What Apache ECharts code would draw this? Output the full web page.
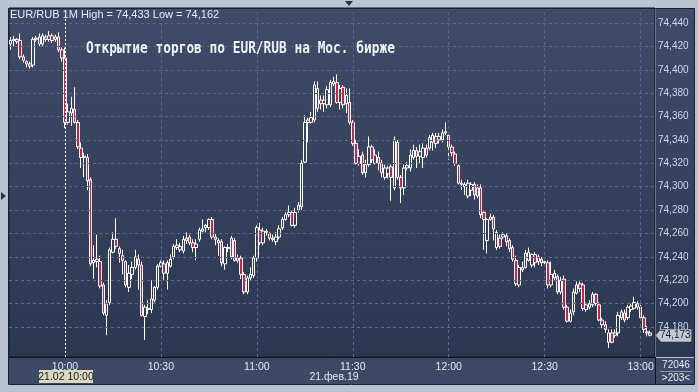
<!DOCTYPE html>
<html>
<head>
<meta charset="utf-8">
<script src="https://cdn.jsdelivr.net/npm/echarts@6/dist/echarts.min.js"></script>
<style>
html,body{margin:0;padding:0;background:#b9c4d3;}
#c{width:698px;height:392px;}
</style>
</head>
<body>
<div id="c"></div>
<script>
// ---- data (prices as thousandths above base) ----
const base = 74;
const candleMilli = [ // [open, close, low, high]
[422,425,417,428],[425,426,420,429],[426,424,422,427],[425,411,409,431],[411,408,406,413],
[407,405,402,408],[405,403,401,407],[404,426,402,428],[426,427,424,429],[428,422,420,431],
[422,429,420,431],[428,426,424,430],[426,429,424,433],[429,425,423,431],[426,428,424,430],
[428,417,415,432],[417,410,407,419],[410,355,350,419],[355,364,353,371],[363,367,352,377],
[366,355,354,385],[355,334,332,357],[333,325,316,338],[325,326,308,329],[325,305,297,328],
[306,234,232,308],[235,237,221,250],[238,236,231,259],[236,215,213,241],[216,192,190,218],
[190,200,173,203],[201,246,199,248],[244,255,243,261],[255,249,247,273],[247,243,235,249],
[241,237,225,246],[236,216,214,237],[214,226,210,233],[225,231,221,236],[231,240,229,246],
[238,233,212,242],[233,190,189,236],[189,197,169,199],[195,196,191,203],[195,204,192,220],
[203,214,201,215],[214,232,212,234],[232,235,231,237],[234,226,220,237],[226,235,212,237],
[232,238,231,242],[240,249,238,251],[248,250,246,255],[249,246,244,252],[245,255,243,258],
[254,256,251,261],[257,252,250,259],[252,248,244,255],[248,251,237,255],[255,263,253,265],
[262,264,261,272],[265,267,261,268],[265,272,263,273],[272,257,255,274],[257,255,250,260],
[254,252,241,256],[253,235,232,255],[234,248,229,249],[247,248,244,251],[256,240,238,258],
[254,237,236,256],[237,239,235,242],[239,225,221,241],[225,210,208,227],[210,222,208,224],
[222,225,220,231],[224,239,222,241],[239,265,236,267],[263,252,250,269],[252,262,250,265],
[262,261,258,264],[260,256,254,261],[256,255,253,259],[253,257,250,261],[257,264,255,267],
[265,272,263,274],[272,276,271,278],[276,278,274,284],[278,267,266,280],[267,278,265,282],
[280,284,278,287],[283,320,280,323],[321,355,320,361],[357,355,338,359],[355,359,354,364],
[357,387,355,390],[367,384,364,390],[374,371,366,378],[371,374,364,378],[370,383,367,386],
[370,389,368,391],[388,390,386,394],[389,372,371,396],[372,384,366,387],[385,370,367,387],
[371,378,363,384],[372,355,353,384],[355,337,335,357],[337,320,319,340],[320,326,318,332],
[327,312,310,330],[312,319,308,323],[319,334,317,343],[334,323,320,336],[320,327,319,332],
[325,320,314,330],[320,312,308,323],[308,316,306,319],[311,316,307,318],[317,308,288,319],
[299,340,297,343],[338,308,306,340],[308,299,286,310],[299,316,293,319],[316,318,314,321],
[316,327,313,332],[325,331,323,336],[331,326,316,334],[326,330,320,336],[325,333,316,337],
[333,327,325,336],[333,342,331,344],[338,344,331,346],[343,337,333,346],[340,343,337,346],
[340,346,338,349],[346,347,344,355],[344,334,323,346],[334,329,326,336],[328,320,318,330],
[318,303,302,319],[303,302,297,306],[300,302,293,304],[292,303,290,306],[297,302,292,304],
[302,293,289,304],[292,299,290,302],[299,276,273,302],[278,272,246,279],[254,272,243,273],
[272,274,271,277],[274,264,254,276],[248,261,246,263],[256,249,247,259],[257,259,255,261],
[258,253,249,260],[254,247,244,256],[248,238,236,250],[237,217,215,241],[216,231,214,233],
[229,231,227,236],[231,243,230,246],[237,244,236,248],[233,242,231,243],[242,235,231,244],
[236,240,233,242],[238,235,232,240],[235,236,232,237],[235,216,213,237],[216,225,214,236],
[222,226,220,229],[223,210,208,225],[210,220,208,223],[221,197,195,224],[197,185,184,199],
[185,192,184,195],[193,210,190,213],[209,216,208,219],[217,213,210,219],[216,196,194,218],
[195,199,193,201],[200,197,195,203],[199,208,197,210],[208,200,198,209],[199,186,185,201],
[186,182,179,188],[182,178,175,185],[167,175,162,178],[175,167,166,178],[173,175,171,178],
[175,190,172,193],[188,193,186,195],[192,186,184,195],[188,197,186,199],[195,198,193,200],
[196,201,195,206],[200,197,195,202],[197,188,186,199],[188,178,175,190],[175,176,172,181],
[175,173,172,177]
];
const startTime = '9:43';
const slotCount = 202;
const xLabelTimes = ['10:00','10:30','11:00','11:30','12:00','12:30','13:00'];
const cursorTime = '10:00';
const yTicks = [74.18,74.20,74.22,74.24,74.26,74.28,74.30,74.32,74.34,74.36,74.38,74.40,74.42,74.44];
const yMin = 74.1544, yMax = 74.4528;
const lastPrice = 74.173;
const headerText = 'EUR/RUB 1M High = 74,433 Low = 74,162';
const titleText = 'Открытие торгов по EUR/RUB на Мос. бирже';
const dateLabel = '21.фев.19';
const cursorLabel = '21.02 10:00';
const volText = '72046';
const barsText = '>203<';

// ---- build ----
const [sh, sm] = startTime.split(':').map(Number);
const categories = [];
for (let k = 0; k < slotCount; k++) {
  const t = sh * 60 + sm + k;
  categories.push(Math.floor(t / 60) + ':' + String(t % 60).padStart(2, '0'));
}
const candleData = candleMilli.map(r => r.map(v => +(base + v / 1000).toFixed(3)));
const fmt = v => v.toFixed(3).replace('.', ',');

const chart = echarts.init(document.getElementById('c'), null, {renderer: 'canvas'});
const bgGrad = new echarts.graphic.LinearGradient(0, 0, 0, 1, [
  {offset: 0, color: '#3f4c69'}, {offset: 1, color: '#2c3852'}
]);
const gridDash = {color: '#5a6886', type: [3, 3], width: 1};
const font10 = '10px "Liberation Sans"';

chart.setOption({
  animation: false,
  backgroundColor: '#b9c4d3',
  title: [
    {text: headerText, left: 5, top: 4, textStyle: {color: '#e4eaf3', fontSize: 11, fontWeight: 'normal', fontFamily: 'Liberation Sans'}}
  ],
  grid: {left: 9, right: 43, top: 8, bottom: 35, show: true, backgroundColor: bgGrad, borderColor: '#141820', borderWidth: 1, outerBoundsMode: 'none'},
  xAxis: {
    type: 'category', data: categories, boundaryGap: true,
    axisLine: {show: true, lineStyle: {color: '#101318', width: 1}},
    axisTick: {show: false},
    splitLine: {show: false},
    axisLabel: {
      interval: (i, v) => xLabelTimes.includes(v),
      color: '#e2e8f1', fontSize: 10.5, fontFamily: 'Liberation Sans', margin: 5
    }
  },
  yAxis: {
    type: 'value', position: 'right', min: yMin, max: yMax, scale: true,
    axisLine: {show: false}, axisTick: {show: false}, splitLine: {show: false},
    axisLabel: {customValues: yTicks, formatter: fmt, color: '#c9d6ea', fontSize: 10, fontFamily: 'Liberation Sans', margin: 3}
  },
  series: [
    {
      type: 'line', data: [], z: 1, silent: true,
      markLine: {
        silent: true, symbol: ['none', 'none'], label: {show: false},
        lineStyle: gridDash,
        data: yTicks.map(v => ({yAxis: v})).concat(
          xLabelTimes.filter(t => t !== cursorTime).map(t => ({xAxis: t})))
      }
    },
    {
      type: 'line', data: [], z: 4, silent: true,
      markLine: {
        silent: true, symbol: ['none', 'none'], label: {show: false},
        lineStyle: {color: '#ffffff', type: [2, 2], width: 1},
        data: [{xAxis: cursorTime}]
      }
    },
    {
      type: 'candlestick', data: candleData, z: 3, barWidth: 3,
      itemStyle: {color: 'transparent', color0: '#e8163e', borderColor: '#ffffff', borderColor0: '#ffffff', borderWidth: 1}
    }
  ]
});

// last-price tag placed through the value axis scale
const py = Math.round(chart.convertToPixel({yAxisIndex: 0}, lastPrice)) + 0.5;
chart.setOption({
  graphic: [
    {type: 'rect', z: -1, shape: {x: 656, y: 8, width: 39, height: 349}, style: {fill: bgGrad}},
    {type: 'rect', z: -1, shape: {x: 8, y: 358, width: 687, height: 26}, style: {fill: '#3d4a66'}},
    {type: 'rect', z: 10, shape: {x: 8.5, y: 8.5, width: 686, height: 376}, style: {fill: 'none', stroke: '#1c222c', lineWidth: 1}},
    {type: 'line', z: 10, shape: {x1: 655.5, y1: 357, x2: 655.5, y2: 384}, style: {stroke: '#101318', lineWidth: 1}},
    {type: 'line', z: 10, shape: {x1: 660, y1: 371.5, x2: 692, y2: 371.5}, style: {stroke: '#8894aa', lineWidth: 1}},
    {type: 'text', z: 10, style: {x: 676, y: 365, text: volText, fill: '#e2e8f1', font: font10, textAlign: 'center', textVerticalAlign: 'middle'}},
    {type: 'text', z: 10, style: {x: 676, y: 378, text: barsText, fill: '#e2e8f1', font: font10, textAlign: 'center', textVerticalAlign: 'middle'}},
    {type: 'rect', z: 10, shape: {x: 39, y: 370, width: 54, height: 13}, style: {fill: '#d9d8bf'}},
    {type: 'text', z: 11, style: {x: 66, y: 377, text: cursorLabel, fill: '#1a1a1a', font: '10.5px "Liberation Sans"', textAlign: 'center', textVerticalAlign: 'middle'}},
    {type: 'text', z: 10, style: {x: 334, y: 377, text: dateLabel, fill: '#e2e8f1', font: '10.5px "Liberation Sans"', textAlign: 'center', textVerticalAlign: 'middle'}},
    {type: 'polygon', z: 10, shape: {points: [[345, 1], [353, 1], [349, 6]]}, style: {fill: '#2a3142'}},
    {type: 'polygon', z: 10, shape: {points: [[1, 192], [1, 200], [6, 196]]}, style: {fill: '#2a3142'}},
    {type: 'text', z: 12, x: 86, y: 57, scaleX: 0.855, scaleY: 1,
      style: {x: 0, y: 0, text: titleText, fill: '#eef1f5', font: 'bold 15px "DejaVu Sans Mono"', textAlign: 'left', textVerticalAlign: 'bottom'}},
    {type: 'polygon', z: 12, shape: {points: [[656, py], [661, py - 6], [691, py - 6], [691, py + 6], [661, py + 6]]}, style: {fill: '#c4c8cf', stroke: '#9aa0aa', lineWidth: 1}},
    {type: 'text', z: 13, style: {x: 660, y: py, text: fmt(lastPrice), fill: '#14203a', font: font10, textAlign: 'left', textVerticalAlign: 'middle'}}
  ]
});
</script>
</body>
</html>
